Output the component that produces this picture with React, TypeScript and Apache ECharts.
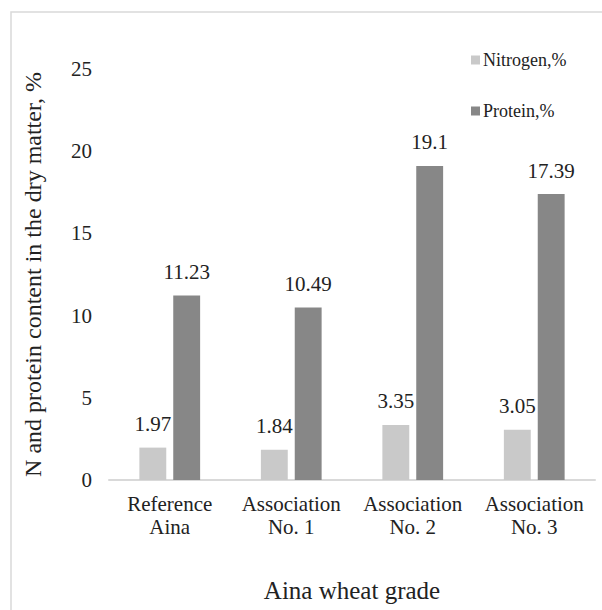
import React, { useEffect, useRef } from "react";
import * as echarts from "echarts";

const categories = ["Reference\nAina", "Association\nNo. 1", "Association\nNo. 2", "Association\nNo. 3"];
const nitrogen = [1.97, 1.84, 3.35, 3.05];
const protein = [11.23, 10.49, 19.1, 17.39];
const seriesNames = ["Nitrogen,%", "Protein,%"];

const FONT = "Liberation Serif, Times New Roman, serif";

export default function App() {
  const ref = useRef<HTMLDivElement>(null);
  useEffect(() => {
    const chart = echarts.init(ref.current!, null, { renderer: "svg" });
    chart.setOption({
      animation: false,
      backgroundColor: "#ffffff",
      textStyle: { fontFamily: FONT },
      graphic: [
        {
          type: "rect",
          shape: { x: 11, y: 12, width: 640, height: 640 },
          style: { fill: "none", stroke: "#d9d9d9", lineWidth: 1.5 },
          silent: true,
        },
      ],
      legend: {
        orient: "vertical",
        left: 466,
        top: 46,
        itemWidth: 9,
        itemHeight: 9,
        itemGap: 33,
        icon: "rect",
        textStyle: { fontFamily: FONT, fontSize: 18, color: "#222", padding: [0, 0, 0, -2] },
        data: seriesNames,
      },
      grid: { left: 109, right: 7, top: 69, bottom: 130 },
      xAxis: {
        type: "category",
        data: categories,
        axisLine: { lineStyle: { color: "#d9d9d9", width: 2 } },
        axisTick: { show: false },
        axisLabel: { interval: 0, hideOverlap: false, fontFamily: FONT, fontSize: 21, color: "#222", lineHeight: 23, margin: 12 },
        name: "Aina wheat grade",
        nameLocation: "middle",
        nameGap: 98,
        nameTextStyle: { fontFamily: FONT, fontSize: 25, color: "#222" },
      },
      yAxis: {
        type: "value",
        min: 0,
        max: 25,
        interval: 5,
        axisLine: { show: false },
        axisTick: { show: false },
        splitLine: { show: false },
        axisLabel: { fontFamily: FONT, fontSize: 21, color: "#222", margin: 17 },
        name: "N and protein content in the dry matter, %",
        nameLocation: "middle",
        nameGap: 64,
        nameTextStyle: { fontFamily: FONT, fontSize: 24, color: "#222" },
      },
      series: [
        {
          name: seriesNames[0],
          type: "bar",
          data: nitrogen,
          barGap: "26%",
          barCategoryGap: "50%",
          itemStyle: { color: "#c9c9c9" },
          label: { show: true, position: "top", distance: 13, fontFamily: FONT, fontSize: 21, color: "#222" },
        },
        {
          name: seriesNames[1],
          type: "bar",
          data: protein,
          barGap: "26%",
          barCategoryGap: "50%",
          itemStyle: { color: "#878787" },
          label: { show: true, position: "top", distance: 13, fontFamily: FONT, fontSize: 21, color: "#222" },
        },
      ],
    });
    return () => chart.dispose();
  }, []);
  return <div ref={ref} style={{ width: 602, height: 610, position: "absolute", left: 0, top: 0 }} />;
}
